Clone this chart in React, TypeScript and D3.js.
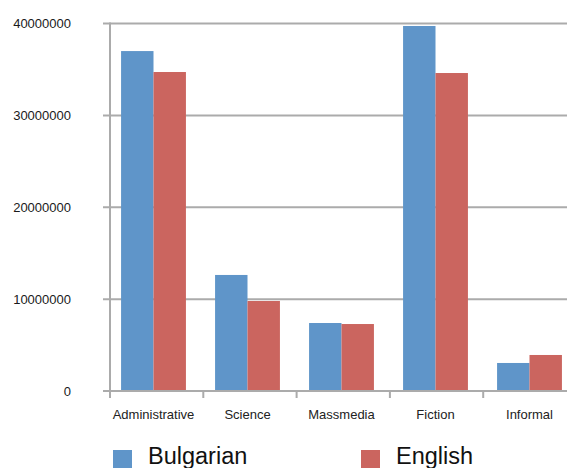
import * as d3 from 'd3';

const W = 567;
const H = 468;

const categories = ['Administrative', 'Science', 'Massmedia', 'Fiction', 'Informal'];
const seriesNames = ['Bulgarian', 'English'];
const bulgarian = [37000000, 12630000, 7400000, 39730000, 3050000];
const english = [34720000, 9800000, 7290000, 34610000, 3920000];
const yTicks = [0, 10000000, 20000000, 30000000, 40000000];
const colors = ['#5f95c9', '#cb655f'];

const FONT = '"Liberation Sans", Arial, Helvetica, sans-serif';

export default function App() {
  const x0 = 110;
  const y = d3.scaleLinear().domain([0, 40000000]).range([391, 23.5]);
  // group centres and category tick marks
  const x = d3.scaleBand<string>().domain(categories).range([106.5, 576.5]).paddingInner(0.31).paddingOuter(0.155);
  const xs = d3.scaleBand<string>().domain(seriesNames).range([0, x.bandwidth()]);
  const tickX = d3.scaleLinear().domain([0, categories.length]).range([x0, 576.5]);
  const series = [bulgarian, english];

  return (
    <svg width={W} height={H} style={{ position: 'absolute', left: 0, top: 0, background: '#fff' }}>
      {/* gridlines + y labels */}
      {yTicks.map((t) => (
        <g key={t}>
          <line x1={103} x2={W} y1={y(t)} y2={y(t)} stroke="#ababab" strokeWidth={2} />
          <text x={71} y={y(t)} dy="0.35em" textAnchor="end" fontFamily={FONT} fontSize={13} fill="#1a1a1a">
            {t}
          </text>
        </g>
      ))}

      {/* bars */}
      {categories.map((c, i) => (
        <g key={c} transform={`translate(${x(c)},0)`}>
          {series.map((s, j) => (
            <rect
              key={j}
              x={xs(seriesNames[j])}
              y={y(s[i])}
              width={xs.bandwidth()}
              height={y(0) - y(s[i])}
              fill={colors[j]}
            />
          ))}
        </g>
      ))}

      {/* axes */}
      <line x1={x0} x2={x0} y1={y(40000000) - 1} y2={398} stroke="#ababab" strokeWidth={2} />
      <line x1={103} x2={W} y1={y(0)} y2={y(0)} stroke="#ababab" strokeWidth={2} />
      {d3.range(categories.length + 1).map((i) => (
        <line key={i} x1={tickX(i)} x2={tickX(i)} y1={y(0)} y2={398} stroke="#ababab" strokeWidth={2} />
      ))}

      {/* category labels */}
      {categories.map((c) => (
        <text key={c} x={(x(c) ?? 0) + x.bandwidth() / 2} y={419} textAnchor="middle" fontFamily={FONT} fontSize={13} fill="#222">
          {c}
        </text>
      ))}

      {/* legend */}
      {seriesNames.map((n, j) => {
        const lx = j === 0 ? 113 : 361;
        return (
          <g key={n}>
            <rect x={lx} y={450} width={19} height={19} fill={colors[j]} />
            <text x={lx + 35} y={464} fontFamily={FONT} fontSize={23.5} fill="#111">
              {n}
            </text>
          </g>
        );
      })}
    </svg>
  );
}
